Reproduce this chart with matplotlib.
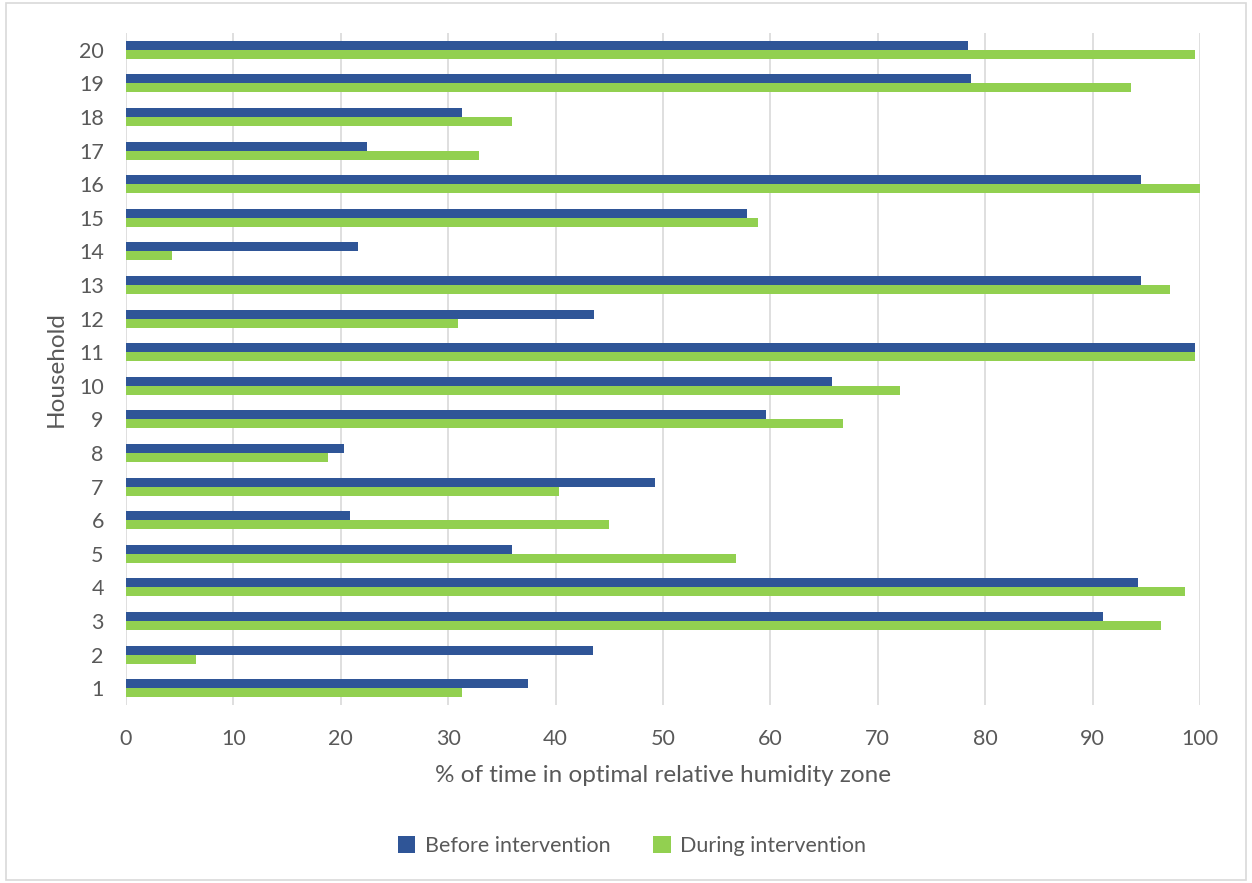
import numpy as np
import matplotlib
matplotlib.use("Agg")
import matplotlib.pyplot as plt
from matplotlib.patches import Rectangle

households = list(range(1, 21))
before = [37.4, 43.5, 91.0, 94.2, 35.9, 20.9, 49.3, 20.3, 59.6, 65.7,
          99.5, 43.6, 94.5, 21.6, 57.8, 94.5, 22.4, 31.3, 78.7, 78.4]
during = [31.3, 6.5, 96.4, 98.6, 56.8, 45.0, 40.3, 18.8, 66.8, 72.1,
          99.5, 30.9, 97.2, 4.3, 58.8, 100.0, 32.9, 35.9, 93.6, 99.5]
xticks = list(range(0, 101, 10))

BLUE = "#2F5597"
GREEN = "#92D050"
TEXT = "#595959"
GRID = "#D9D9D9"

plt.rcParams["font.family"] = ["Lato", "DejaVu Sans"]

W, H = 1252, 883
fig = plt.figure(figsize=(W / 100, H / 100), dpi=100)
ax = fig.add_axes([126 / W, 1 - 705 / H, (1200 - 126) / W, (705 - 33) / H])

y = np.arange(len(households))
h = 0.27
ax.barh(y + h / 2, before, height=h, color=BLUE, label="Before intervention", zorder=3)
ax.barh(y - h / 2, during, height=h, color=GREEN, label="During intervention", zorder=3)

ax.set_xlim(0, 100)
ax.set_ylim(-0.5, len(households) - 0.5)
ax.set_xticks(xticks)
ax.set_yticks(y)
ax.set_yticklabels([str(v) for v in households])
ax.xaxis.grid(True, color=GRID, linewidth=1.2, zorder=0)
ax.yaxis.grid(False)
for s in ax.spines.values():
    s.set_visible(False)
ax.tick_params(axis="both", length=0, labelsize=15.5, labelcolor=TEXT)
ax.tick_params(axis="x", pad=17)
ax.tick_params(axis="y", pad=16)

ax.set_xlabel("% of time in optimal relative humidity zone", fontsize=17.5, color=TEXT, labelpad=12)
ax.set_ylabel("Household", fontsize=17.5, color=TEXT, labelpad=9)

handles, labels = ax.get_legend_handles_labels()
fig.legend(handles, labels, loc="center", bbox_to_anchor=(632 / W, 1 - 846 / H),
           ncol=2, frameon=False, fontsize=15.5, labelcolor=TEXT,
           handlelength=0.8, handleheight=0.8, handletextpad=0.45, columnspacing=2.0)

fig.patches.append(Rectangle((6 / W, 1 - 880 / H), (1246 - 6) / W, (880 - 3) / H,
                             transform=fig.transFigure, fill=False,
                             edgecolor=GRID, linewidth=1.2))

fig.savefig("out.png", dpi=100, facecolor="white")
